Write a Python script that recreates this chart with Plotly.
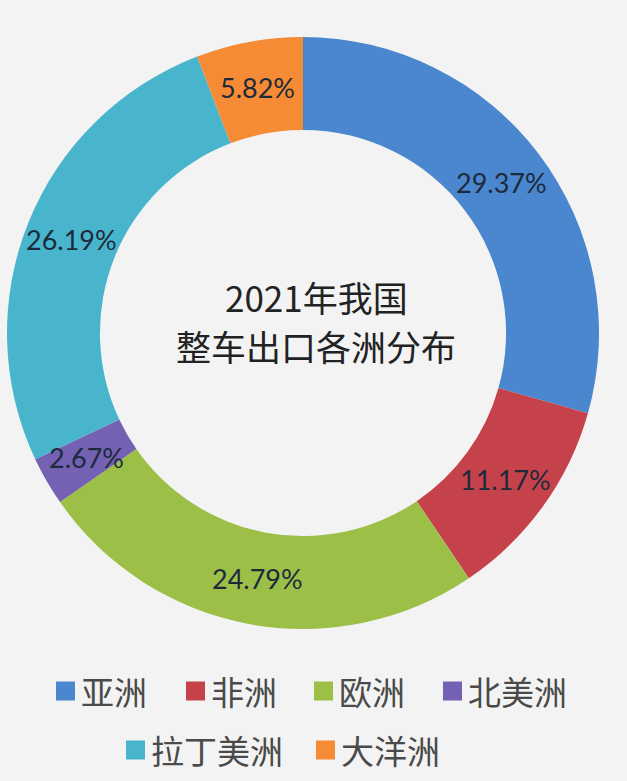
import math
import plotly.graph_objects as go

# ---- data ----
categories = ["亚洲", "非洲", "欧洲", "北美洲", "拉丁美洲", "大洋洲"]
shares = [29.37, 11.17, 24.79, 2.67, 26.19, 5.82]
colors = ["#4A87CF", "#C6424B", "#9CBF48", "#7461B4", "#48B5CC", "#F58B35"]
title_lines = ["2021年我国", "整车出口各洲分布"]

W, H = 627, 781
cx, cy, r_out, hole = 303, 333, 296, 0.686

fig = go.Figure(go.Pie(
    labels=categories, values=shares, sort=False, direction="clockwise",
    rotation=0, hole=hole, marker=dict(colors=colors, line=dict(width=0)),
    textinfo="none", showlegend=False,
    domain=dict(x=[(cx - r_out) / W, (cx + r_out) / W],
                y=[1 - (cy + r_out) / H, 1 - (cy - r_out) / H]),
))

annotations = []
shapes = []
# slice labels placed at the middle of the ring, derived from the values
r_mid = r_out * (1 + hole) / 2
total = sum(shares)
acc = 0.0
for v in shares:
    mid = (acc + v / 2) / total * 2 * math.pi
    acc += v
    px = cx + r_mid * math.sin(mid)
    py = cy - r_mid * math.cos(mid)
    annotations.append(dict(x=px / W, y=1 - py / H, xref="paper", yref="paper",
                            xanchor="center", yanchor="middle",
                            text=f"{v:.2f}%", showarrow=False,
                            font=dict(family="Lato, Open Sans, sans-serif", size=27, color="#1d2a3a")))

# centre title
for i, line in enumerate(title_lines):
    annotations.append(dict(x=316 / W, y=1 - (297 + 48 * i) / H, xref="paper", yref="paper",
                            xanchor="center", yanchor="middle",
                            text=line, showarrow=False,
                            font=dict(family="Noto Sans CJK SC", size=35, color="#222222")))

# legend (manual)
legend_pos = [(56, 691), (186, 691), (314, 691), (443, 691), (126, 750), (316, 750)]
sq = 19
for (lx, ly), name, col in zip(legend_pos, categories, colors):
    shapes.append(dict(type="rect", xref="paper", yref="paper",
                       x0=lx / W, x1=(lx + sq) / W,
                       y0=1 - (ly + sq / 2) / H, y1=1 - (ly - sq / 2) / H,
                       fillcolor=col, line=dict(width=0)))
    annotations.append(dict(x=(lx + sq + 4) / W, y=1 - ly / H, xref="paper", yref="paper",
                            xanchor="left", yanchor="middle", text=name, showarrow=False,
                            font=dict(family="Noto Sans CJK SC", size=33, color="#4a4a4a")))

fig.update_layout(
    width=W, height=H, margin=dict(l=0, r=0, t=0, b=0),
    paper_bgcolor="#f3f3f3", plot_bgcolor="#f3f3f3",
    annotations=annotations, shapes=shapes,
)
fig.write_html("out.html")
